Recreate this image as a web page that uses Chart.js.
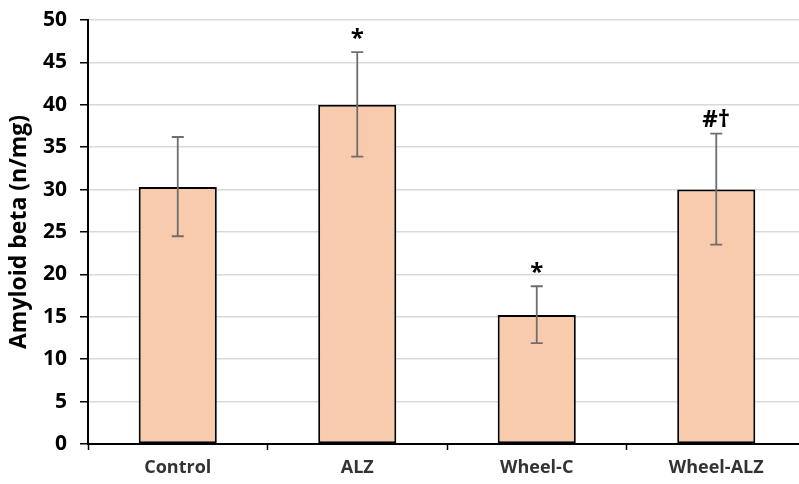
<!DOCTYPE html>
<html>
<head>
<meta charset="utf-8">
<script src="https://cdn.jsdelivr.net/npm/chart.js@4.4.0/dist/chart.umd.min.js"></script>
<style>
  html, body { margin: 0; padding: 0; background: #fff; overflow: hidden; }
  #wrap { width: 806px; height: 484px; }
</style>
</head>
<body>
<div id="wrap"><canvas id="chart" width="806" height="484"></canvas></div>
<script>
// values
const categories = ['Control', 'ALZ', 'Wheel-C', 'Wheel-ALZ'];
const means = [30.3, 40.0, 15.2, 30.0];
const errHigh = [36.2, 46.2, 18.6, 36.6];
const errLow = [24.5, 33.9, 11.9, 23.5];
const marks = ['', '*', '*', '#\u2020'];
const yTicks = [0, 5, 10, 15, 20, 25, 30, 35, 40, 45, 50];

const FONT = '"Open Sans", "Liberation Sans", sans-serif';

// error bars + significance marks, positioned through the chart scales
const errorBars = {
    id: 'errorBars',
    afterDatasetsDraw(chart) {
        const { ctx, scales: { x, y } } = chart;
        ctx.save();
        ctx.strokeStyle = '#6e6e6e';
        ctx.lineWidth = 1.8;
        categories.forEach((c, i) => {
            const cx = x.getPixelForValue(i);
            const top = y.getPixelForValue(errHigh[i]);
            const bot = y.getPixelForValue(errLow[i]);
            ctx.beginPath();
            ctx.moveTo(cx, top); ctx.lineTo(cx, bot);
            ctx.moveTo(cx - 6, top); ctx.lineTo(cx + 6, top);
            ctx.moveTo(cx - 6, bot); ctx.lineTo(cx + 6, bot);
            ctx.stroke();
            if (marks[i]) {
                ctx.fillStyle = '#000';
                ctx.font = 'bold 24px ' + FONT;
                ctx.textAlign = 'center';
                ctx.textBaseline = 'bottom';
                ctx.fillText(marks[i], cx, top - 1);
            }
        });
        ctx.restore();
    }
};

new Chart(document.getElementById('chart'), {
    type: 'bar',
    data: {
        labels: categories,
        datasets: [{
            data: means,
            backgroundColor: '#F8CBAD',
            borderColor: '#000',
            borderWidth: 2,
            borderSkipped: false,
            categoryPercentage: 1,
            barPercentage: 0.435,
        }],
    },
    options: {
        responsive: false,
        animation: false,
        layout: { padding: { top: 0, right: 0, left: 0, bottom: 0 } },
        plugins: { legend: { display: false }, tooltip: { enabled: false } },
        scales: {
            y: {
                min: 0, max: 50,
                afterBuildTicks: (axis) => { axis.ticks = yTicks.map(v => ({ value: v })); },
                afterFit: (axis) => { axis.width = 88; axis.paddingTop = 20; axis.paddingBottom = 0; },
                ticks: { color: '#000', font: { family: FONT, size: 21, weight: 'bold' }, padding: 13 },
                grid: { color: '#d9d9d9', lineWidth: 1.5, tickColor: '#000', tickLength: 8, tickWidth: 1.5 },
                border: { color: '#000', width: 2 },
                title: {
                    display: true, text: 'Amyloid beta (n/mg)', color: '#000',
                    font: { family: FONT, size: 23, weight: 'bold' }, padding: { top: 6, bottom: 0 },
                },
            },
            x: {
                afterFit: (axis) => { axis.height = 40; },
                ticks: { color: '#333', font: { family: FONT, size: 18, weight: 'bold' }, padding: 7 },
                grid: { offset: true, drawOnChartArea: false, tickColor: '#000', tickLength: 6, tickWidth: 1.5 },
                border: { color: '#000', width: 2 },
            },
        },
    },
    plugins: [errorBars],
});
</script>
</body>
</html>
